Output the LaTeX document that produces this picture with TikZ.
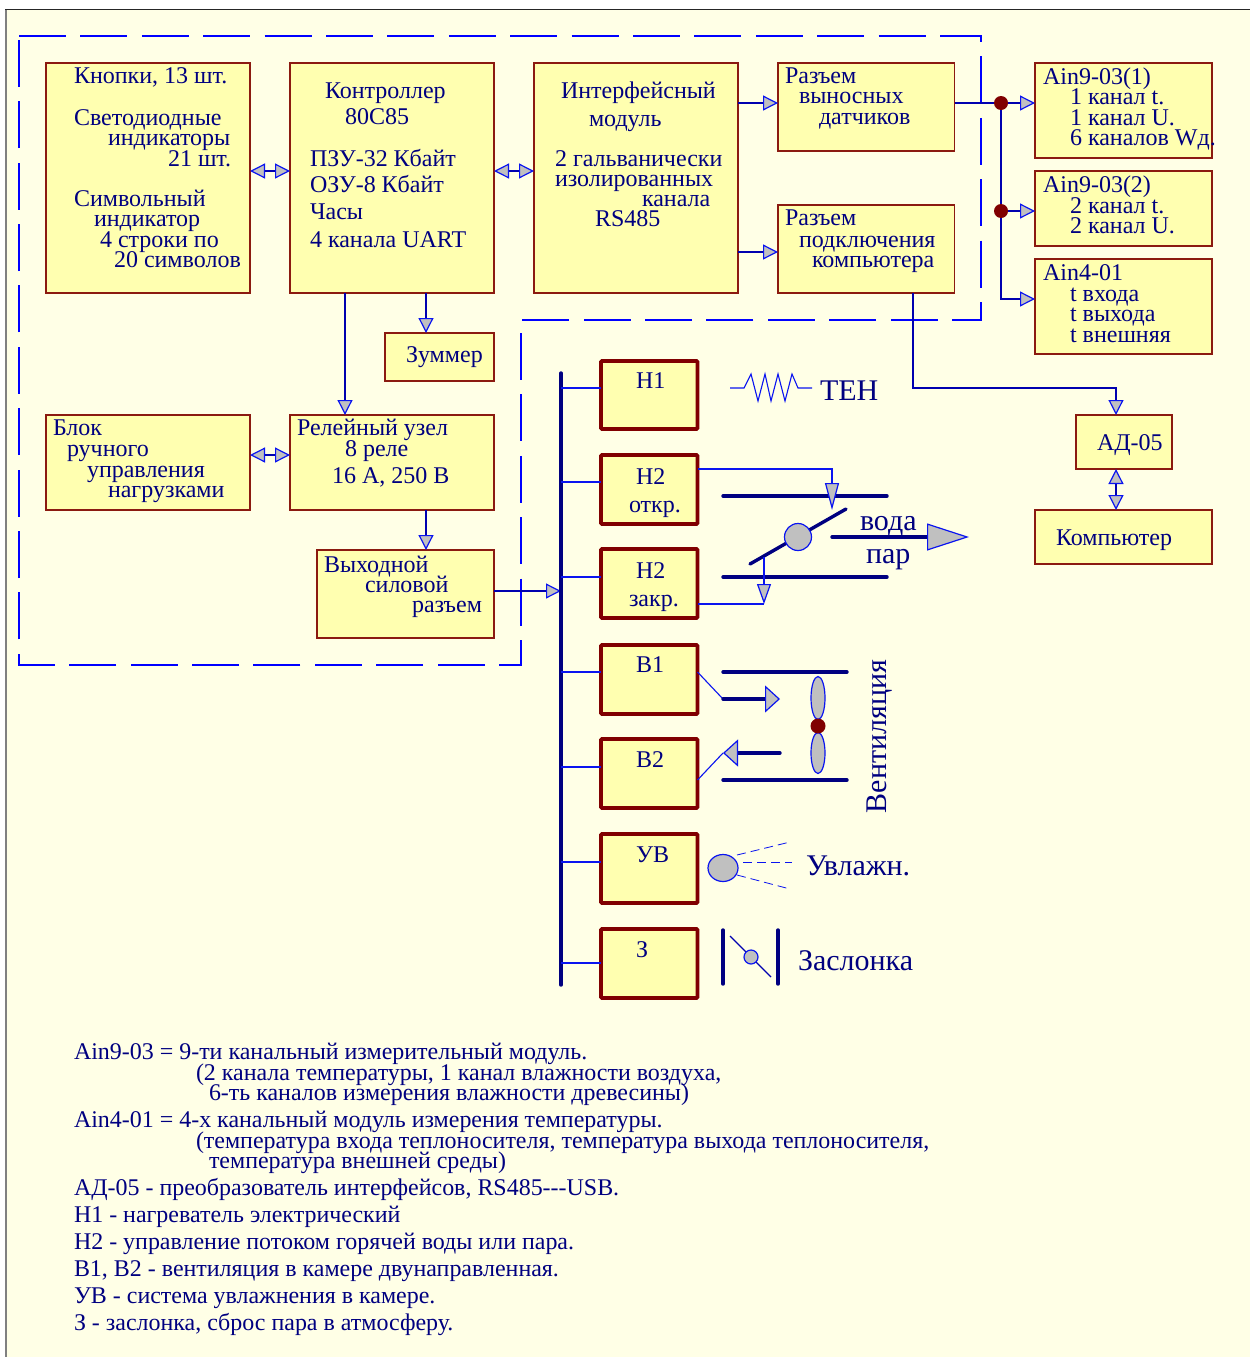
\documentclass[tikz,border=0pt]{standalone}
\usepackage{fontspec}
\setmainfont{Liberation Serif}
\usetikzlibrary{arrows.meta,shapes.geometric}
\definecolor{bgc}{HTML}{FFFFE6}
\definecolor{boxc}{HTML}{FFFFB0}
\definecolor{edgec}{HTML}{8B1A10}
\definecolor{darkred}{HTML}{800000}
\definecolor{navyc}{HTML}{000080}
\definecolor{connc}{HTML}{0000B0}
\definecolor{bluec}{HTML}{0A14F0}
\definecolor{ag}{HTML}{C0C0C0}
\tikzset{
  box/.style={draw=edgec,fill=boxc,line width=1.1pt,inner sep=0pt,outer sep=0pt},
  hbox/.style={draw=darkred,fill=boxc,line width=3.6pt,rounded corners=1pt,inner sep=0pt,outer sep=0pt},
  lbl/.style={anchor=base west,inner sep=0pt,outer sep=0pt,text=navyc,font=\fontsize{24}{24}\selectfont},
  note/.style={lbl,font=\fontsize{23.95}{24}\selectfont},
  big/.style={lbl,font=\fontsize{30}{30}\selectfont},
  conn/.style={draw=connc,line width=1.1pt},
  sig/.style={draw=bluec,line width=1.1pt},
  thickl/.style={draw=navyc,line width=3.4pt,line cap=round},
  tip/.tip={Triangle[length=15pt,width=15pt,fill=ag,color=bluec,line width=1.2pt]},
  bigtip/.tip={Triangle[length=42pt,width=27pt,fill=ag,color=bluec,line width=1.2pt]},
  midtip/.tip={Triangle[length=15pt,width=27pt,fill=ag,color=bluec,line width=1.2pt]},
  vtip/.tip={Triangle[length=27pt,width=14pt,fill=ag,color=bluec,line width=1.2pt]},
  wtip/.tip={Triangle[length=20pt,width=14pt,fill=ag,color=bluec,line width=1.2pt]},
  dot/.style={circle,fill=darkred,minimum size=14pt,inner sep=0pt,outer sep=0pt},
  gblob/.style={draw=bluec,fill=ag,line width=1.2pt,inner sep=0pt,outer sep=0pt},
  frame/.style={draw=blue,line width=1.3pt,dash pattern=on 47pt off 14.4pt},
}
\newcommand\bx[6]{%
  \pgfmathsetmacro\bxw{#5-#3}\pgfmathsetmacro\bxh{#6-#4}%
  \pgfmathsetmacro\bxx{(#5+#3)/2}\pgfmathsetmacro\bxy{(#6+#4)/2}%
  \node[#1,minimum width=\bxw pt,minimum height=\bxh pt] (#2) at (\bxx,\bxy) {};}
\newcommand\lb[4]{\node[lbl] (#1) at (#2,#3) {#4};}
\newcommand\nt[4]{\node[note] (#1) at (#2,#3) {#4};}
\begin{document}
\begin{tikzpicture}[x=1pt,y=-1pt]
\useasboundingbox (0,0) rectangle (1250,1357);
\fill[white] (0,0) rectangle (1250,1357);
\fill[bgc] (5,9) rectangle (1250,1357);
\draw[draw=black!50,line width=2pt] (6,1357) -- (6,9);
\draw[draw=black!85,line width=1pt] (5,9.5) -- (1250,9.5);
% dashed enclosure
\draw[frame] (19,36) -- (981,36) -- (981,320) -- (521,320);
\draw[frame] (521,333) -- (521,665) -- (19,665) -- (19,38);
% boxes
\bx{box}{kn}{46}{63}{250}{293}
\bx{box}{ctrl}{290}{63}{494}{293}
\bx{box}{ifc}{534}{63}{738}{293}
\bx{box}{ra}{778}{63}{954.5}{151}
\bx{box}{rb}{778}{205}{954.5}{293}
\bx{box}{aa}{1035}{63}{1212}{158}
\bx{box}{ab}{1035}{171}{1212}{246}
\bx{box}{ac}{1035}{259}{1212}{354}
\bx{box}{zum}{385}{333}{494}{381}
\bx{box}{rel}{290}{415}{494}{510}
\bx{box}{blk}{46}{415}{250}{510}
\bx{box}{vyh}{317}{550}{494}{638}
\bx{box}{ad}{1076}{415}{1172}{469}
\bx{box}{pc}{1035}{510}{1212}{564}
\bx{hbox}{ha}{601}{361}{697.5}{429}
\bx{hbox}{hb}{601}{455}{697.5}{524}
\bx{hbox}{hc}{601}{549}{697.5}{618}
\bx{hbox}{ba}{601}{645}{697.5}{714}
\bx{hbox}{bb}{601}{739}{697.5}{808}
\bx{hbox}{uv}{601}{834}{697.5}{903}
\bx{hbox}{zz}{601}{929}{697.5}{998}
% junctions
\node[dot] (ja) at (1001,103) {};
\node[dot] (jb) at (1001,211) {};
\coordinate (bustop) at (561,373);
\coordinate (busbot) at (561,985);
% connectors
\draw[conn,tip-tip] (kn.east |- 0,171) -- (ctrl.west |- 0,171);
\draw[conn,tip-tip] (ctrl.east |- 0,171) -- (ifc.west |- 0,171);
\draw[conn,-tip] (ifc.east |- 0,103) -- (ra.west |- 0,103);
\draw[conn,-tip] (ifc.east |- 0,252) -- (rb.west |- 0,252);
\draw[conn] (ra.east |- 0,103) -- (ja);
\draw[conn,-tip] (ja) -- (aa.west |- 0,103);
\draw[conn] (ja) -- (jb);
\draw[conn,-tip] (jb) -- (ab.west |- 0,211);
\draw[conn,-tip] (jb) -- (1001,299) -- (ac.west |- 0,299);
\draw[conn,-tip] (913,0 |- rb.south) -- (913,388) -- (1116,388) -- (1116,0 |- ad.north);
\draw[conn,tip-tip] (1116,0 |- ad.south) -- (1116,0 |- pc.north);
\draw[conn,-tip] (345,0 |- ctrl.south) -- (345,0 |- rel.north);
\draw[conn,-tip] (426,0 |- ctrl.south) -- (426,0 |- zum.north);
\draw[conn,tip-tip] (blk.east |- 0,455) -- (rel.west |- 0,455);
\draw[conn,-tip] (426,0 |- rel.south) -- (426,0 |- vyh.north);
\draw[conn,-tip] (vyh.east |- 0,591) -- (bustop |- 0,591);
% bus and stubs
\draw[thickl] (bustop) -- (busbot);
\draw[sig] (bustop |- 0,388) -- (ha.west |- 0,388);
\draw[sig] (bustop |- 0,482) -- (hb.west |- 0,482);
\draw[sig] (bustop |- 0,577) -- (hc.west |- 0,577);
\draw[sig] (bustop |- 0,672) -- (ba.west |- 0,672);
\draw[sig] (bustop |- 0,767) -- (bb.west |- 0,767);
\draw[sig] (bustop |- 0,862) -- (uv.west |- 0,862);
\draw[sig] (bustop |- 0,963) -- (zz.west |- 0,963);
% heating element
\draw[sig,line join=miter] (730,388) -- (744,388) -- (751,374) -- (758,401) -- (765,374) -- (771,401) -- (778,374) -- (785,401) -- (792,374) -- (798,388) -- (812,388);
% valve
\draw[thickl] (723,496) -- (887,496);
\draw[thickl] (723,577) -- (887,577);
\draw[thickl] (750,564) -- (846,509);
\node[gblob,circle,minimum size=27pt] (valve) at (798,537) {};
\draw[sig,-vtip] (hb.east |- 0,469) -- (832,469) -- (832,510);
\draw[sig] (hc.east |- 0,604) -- (764,604);
\draw[sig,-wtip] (764,557) -- (764,604);
\draw[thickl,-bigtip] (832,537) -- (969,537);
% ventilation
\draw[thickl] (723,672) -- (847,672);
\draw[thickl] (723,780) -- (847,780);
\draw[sig] (ba.east |- 0,672) -- (723,699);
\draw[sig] (bb.east |- 0,780) -- (723,753);
\draw[thickl,-midtip] (723,699) -- (780,699);
\draw[thickl,-midtip] (780,753) -- (723,753);
\node[gblob,ellipse,minimum width=14pt,minimum height=43pt] (fana) at (818,698) {};
\node[gblob,ellipse,minimum width=14pt,minimum height=41pt] (fanb) at (818,753) {};
\node[dot,minimum size=15pt] (hub) at (818,726) {};
% humidifier
\node[gblob,ellipse,minimum width=30pt,minimum height=27pt] (noz) at (723,868) {};
\draw[sig,line width=.8pt,dash pattern=on 9pt off 5pt] (737,855) -- (790,842);
\draw[sig,line width=.8pt,dash pattern=on 9pt off 5pt] (743,862) -- (792,862);
\draw[sig,line width=.8pt,dash pattern=on 9pt off 5pt] (737,875) -- (790,889);
% damper
\draw[thickl] (723,930) -- (723,984);
\draw[thickl] (778,930) -- (778,984);
\draw[conn] (730,936) -- (771,977);
\node[gblob,circle,minimum size=14pt] (dmp) at (751,957) {};
% labels in boxes
\lb{t1}{74}{83}{Кнопки, 13 шт.}
\lb{t2}{74}{125}{Светодиодные}
\lb{t3}{108}{145}{индикаторы}
\lb{t4}{168}{166}{21 шт.}
\lb{t5}{74}{206}{Символьный}
\lb{t6}{94}{226}{индикатор}
\lb{t7}{100}{247}{4 строки по}
\lb{t8}{114}{267}{20 символов}
\lb{c1}{325}{98}{Контроллер}
\lb{c2}{345}{124}{80С85}
\lb{c3}{310}{166}{ПЗУ-32 Кбайт}
\lb{c4}{310}{192}{ОЗУ-8 Кбайт}
\lb{c5}{310}{219}{Часы}
\lb{c6}{310}{247}{4 канала UART}
\lb{i1}{561}{98}{Интерфейсный}
\lb{i2}{589}{126}{модуль}
\lb{i3}{555}{166}{2 гальванически}
\lb{i4}{555}{186}{изолированных}
\lb{i5}{642}{206}{канала}
\lb{i6}{595}{226}{RS485}
\lb{ra1}{785}{83}{Разъем}
\lb{ra2}{799}{103}{выносных}
\lb{ra3}{819}{124}{датчиков}
\lb{rb1}{785}{225}{Разъем}
\lb{rb2}{799}{247}{подключения}
\lb{rb3}{812}{267}{компьютера}
\lb{aa1}{1043}{84}{Ain9-03(1)}
\lb{aa2}{1070}{104}{1 канал t.}
\lb{aa3}{1070}{125}{1 канал U.}
\lb{aa4}{1070}{145}{6 каналов Wд.}
\lb{ab1}{1043}{192}{Ain9-03(2)}
\lb{ab2}{1070}{213}{2 канал t.}
\lb{ab3}{1070}{233}{2 канал U.}
\lb{ac1}{1043}{280}{Ain4-01}
\lb{ac2}{1070}{301}{t входа}
\lb{ac3}{1070}{321}{t выхода}
\lb{ac4}{1070}{342}{t внешняя}
\lb{zm}{406}{362}{Зуммер}
\lb{r1}{297}{435}{Релейный узел}
\lb{r2}{345}{456}{8 реле}
\lb{r3}{332}{483}{16 А, 250 В}
\lb{b1}{53}{435}{Блок}
\lb{b2}{67}{456}{ручного}
\lb{b3}{87}{477}{управления}
\lb{b4}{108}{497}{нагрузками}
\lb{v1}{324}{572}{Выходной}
\lb{v2}{365}{592}{силовой}
\lb{v3}{412}{612}{разъем}
\lb{ad1}{1097}{450}{АД-05}
\lb{pc1}{1056}{545}{Компьютер}
\lb{h1}{636}{388}{Н1}
\lb{h2}{636}{484}{Н2}
\lb{h3}{629}{512}{откр.}
\lb{h4}{636}{578}{Н2}
\lb{h5}{629}{606}{закр.}
\lb{h6}{636}{672}{В1}
\lb{h7}{636}{767}{В2}
\lb{h8}{636}{862}{УВ}
\lb{h9}{636}{957}{З}
% big labels
\node[big] (ten) at (820,400) {ТЕН};
\node[big] (voda) at (860,530) {вода};
\node[big] (par) at (866,563) {пар};
\node[big,rotate=90] (vent) at (886,813) {Вентиляция};
\node[big] (uvl) at (806,875) {Увлажн.};
\node[big] (zasl) at (798,970) {Заслонка};
% notes
\nt{n1}{74}{1059}{Ain9-03 = 9-ти канальный измерительный модуль.}
\nt{n2}{196}{1080}{(2 канала температуры, 1 канал влажности воздуха,}
\nt{n3}{209}{1100}{6-ть каналов измерения влажности древесины)}
\nt{n4}{74}{1127}{Ain4-01 = 4-х канальный модуль измерения температуры.}
\nt{n5}{196}{1148}{(температура входа теплоносителя, температура выхода теплоносителя,}
\nt{n6}{209}{1168}{температура внешней среды)}
\nt{n7}{74}{1195}{АД-05 - преобразователь интерфейсов, RS485{-}{-}{-}USB.}
\nt{n8}{74}{1222}{Н1 - нагреватель электрический}
\nt{n9}{74}{1249}{Н2 - управление потоком горячей воды или пара.}
\nt{n10}{74}{1276}{В1, В2 - вентиляция в камере двунаправленная.}
\nt{n11}{74}{1303}{УВ - система увлажнения в камере.}
\nt{n12}{74}{1330}{З - заслонка, сброс пара в атмосферу.}
\end{tikzpicture}
\end{document}
